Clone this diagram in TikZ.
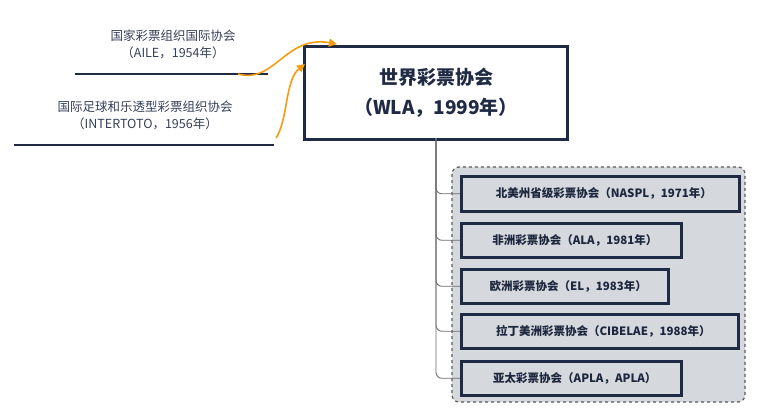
\documentclass[tikz,border=0pt]{standalone}
\usepackage{fontspec}
\setmainfont{Noto Sans CJK SC}
\usetikzlibrary{arrows.meta}
\definecolor{navy}{HTML}{1F2A44}
\definecolor{grp}{HTML}{D5D8DD}
\definecolor{org}{HTML}{F39C12}
\tikzset{
 child/.style={draw=navy,line width=2.6pt,fill=grp,anchor=north west,inner sep=0pt,font=\bfseries\fontsize{11.5}{13}\selectfont,text=navy!90!black},
 lbl/.style={font=\itshape\fontsize{12.5}{17}\selectfont,text=navy!90,align=center},
 uline/.style={draw=navy,line width=2.4pt},
 conn/.style={draw=gray!85!black,line width=0.8pt,rounded corners=6pt},
 oarr/.style={draw=org,line width=1.6pt,-{Triangle[length=8pt,width=8pt]}}
}
\begin{document}
\begin{tikzpicture}[x=1pt,y=-1pt]
\useasboundingbox (0,0) rectangle (760,416);
\node[draw=navy,line width=3pt,fill=white,minimum width=263pt,minimum height=93pt,anchor=north west,align=center,font=\bfseries\fontsize{19}{30}\selectfont,text=navy] (main) at (303,45) {世界彩票协会\\（WLA，1999年）};
\node[lbl] (l1) at (173,44) {国家彩票组织国际协会\\（AILE，1954年）};
\coordinate (u1a) at (75,74); \coordinate (u1b) at (268,74);
\draw[uline] (u1a) -- (u1b);
\node[lbl] (l2) at (145,115) {国际足球和乐透型彩票组织协会\\（INTERTOTO，1956年）};
\coordinate (u2a) at (14,145); \coordinate (u2b) at (274,145);
\draw[uline] (u2a) -- (u2b);
\coordinate (a1) at (238,74); \coordinate (a2) at (276,138);
\draw[oarr] (a1) .. controls (275,84) and (285,35) .. (337,44);
\draw[oarr] (a2) .. controls (288,120) and (285,80) .. (305,64);
\draw[draw=gray!70!black,dashed,line width=1.2pt,fill=grp,rounded corners=7pt] (452,167) rectangle (745,402);
\node[child,minimum width=278pt,minimum height=35pt] (c1) at (460,175) {\hspace*{7pt}北美州省级彩票协会（NASPL，1971年）\hfill};
\node[child,minimum width=220pt,minimum height=34pt] (c2) at (460,222) {\hspace*{7pt}非洲彩票协会（ALA，1981年）\hfill};
\node[child,minimum width=207pt,minimum height=34pt] (c3) at (460,268) {\hspace*{7pt}欧洲彩票协会（EL，1983年）\hfill};
\node[child,minimum width=277pt,minimum height=34pt] (c4) at (460,313) {\hspace*{7pt}拉丁美洲彩票协会（CIBELAE，1988年）\hfill};
\node[child,minimum width=220pt,minimum height=34pt] (c5) at (460,360) {\hspace*{7pt}亚太彩票协会（APLA，APLA）\hfill};
\coordinate (top) at (436,138);
\foreach \c in {c1,c2,c3,c4,c5}{
 \draw[conn] (top) |- (\c.west);
}
\end{tikzpicture}
\end{document}
